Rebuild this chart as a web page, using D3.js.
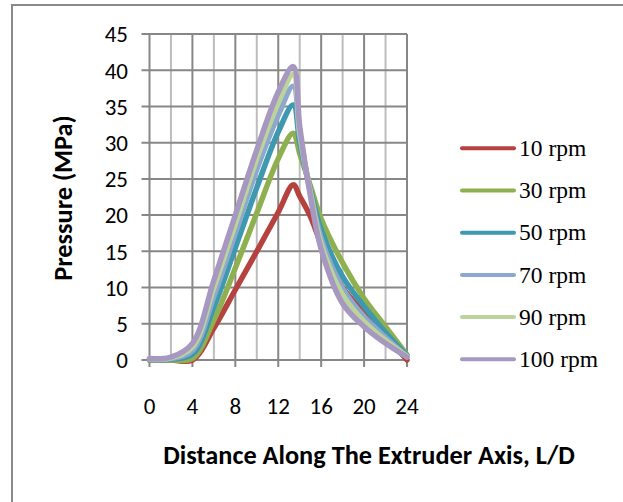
<!DOCTYPE html>
<html>
<head>
<meta charset="utf-8">
<script src="https://cdn.jsdelivr.net/npm/d3@7"></script>
<style>
  html, body { margin: 0; padding: 0; background: #fff; }
  svg { display: block; }
</style>
</head>
<body>
<svg id="chart" width="623" height="502"></svg>
<script>
// Axial position along the screw (L/D) and pressure at each screw speed (MPa)
const ld      = [0, 2, 4, 6, 8, 10, 12, 13.4, 14, 15, 16, 18, 20, 22, 24];
const rpm10   = [0, 0, 0, 4.4, 9.7, 15.0, 20.4, 24.2, 22.6, 19.8, 16.0, 10.0, 6.5, 3.3, 0];
const rpm30   = [0, 0, 0.2, 5.5, 12.7, 20.3, 27.8, 31.3, 28.5, 24.0, 19.5, 13.4, 8.5, 4.6, 0.7];
const rpm50   = [0.1, 0.1, 0.8, 7.3, 15.5, 23.8, 31.5, 35.2, 30.0, 23.5, 18.0, 11.5, 7.4, 3.8, 0.6];
const rpm70   = [0.1, 0.2, 1.3, 8.8, 17.5, 26.3, 33.8, 37.8, 31.0, 23.2, 16.8, 9.9, 6.0, 3.1, 0.5];
const rpm90   = [0.2, 0.3, 1.8, 10.0, 18.8, 27.8, 35.5, 39.4, 31.5, 23.0, 16.0, 9.0, 5.3, 2.7, 0.5];
const rpm100  = [0.2, 0.4, 2.3, 11.0, 20.0, 29.0, 37.0, 40.5, 32.2, 22.6, 15.3, 7.8, 4.6, 2.3, 0.4];

const seriesNames = ["10 rpm", "30 rpm", "50 rpm", "70 rpm", "90 rpm", "100 rpm"];
const seriesColors = ["#B5423F", "#8FB04F", "#3D98B0", "#8DA8CF", "#BCD49A", "#A698C0"];
const seriesValues = [rpm10, rpm30, rpm50, rpm70, rpm90, rpm100];

const xTicks = [0, 4, 8, 12, 16, 20, 24];
const xMinorGrid = [2, 6, 10, 14, 18, 22];
const yTicks = [0, 5, 10, 15, 20, 25, 30, 35, 40, 45];

const svg = d3.select("#chart");
const sansFont = "Carlito, Lato, 'Open Sans', sans-serif";

// outer chart frame
svg.append("rect")
  .attr("x", 12).attr("y", 5)
  .attr("width", 640).attr("height", 520)
  .attr("fill", "#fff")
  .attr("stroke", "#8a8a8a")
  .attr("stroke-width", 2);

const plot = { left: 149.5, right: 407, top: 34, bottom: 360 };

const x = d3.scaleLinear().domain([0, 24]).range([plot.left, plot.right]);
const y = d3.scaleLinear().domain([0, 45]).range([plot.bottom, plot.top]);

// grid: light vertical lines between labelled ticks
svg.append("g").selectAll("line")
  .data(xMinorGrid).join("line")
  .attr("x1", d => x(d)).attr("x2", d => x(d))
  .attr("y1", y(45)).attr("y2", y(0))
  .attr("stroke", "#bdbdbd").attr("stroke-width", 2);

// grid: main vertical lines
svg.append("g").selectAll("line")
  .data(xTicks).join("line")
  .attr("x1", d => x(d)).attr("x2", d => x(d))
  .attr("y1", y(45)).attr("y2", y(0) + 7)
  .attr("stroke", "#878787").attr("stroke-width", 2);

// grid: horizontal lines with outer tick marks
svg.append("g").selectAll("line")
  .data(yTicks).join("line")
  .attr("x1", plot.left - 8).attr("x2", plot.right)
  .attr("y1", d => y(d)).attr("y2", d => y(d))
  .attr("stroke", "#878787").attr("stroke-width", 2);

// y tick labels
svg.append("g").selectAll("text")
  .data(yTicks).join("text")
  .attr("x", 128).attr("y", d => y(d))
  .attr("dy", "0.36em")
  .attr("text-anchor", "end")
  .attr("font-family", sansFont)
  .attr("font-size", 23)
  .attr("fill", "#000")
  .text(d => d);

// x tick labels
svg.append("g").selectAll("text")
  .data(xTicks).join("text")
  .attr("x", d => x(d)).attr("y", 414)
  .attr("text-anchor", "middle")
  .attr("font-family", sansFont)
  .attr("font-size", 23)
  .attr("fill", "#000")
  .text(d => d);

// axis titles
svg.append("text")
  .attr("x", 369).attr("y", 464)
  .attr("text-anchor", "middle")
  .attr("font-family", sansFont)
  .attr("font-weight", "bold")
  .attr("font-size", 26.3)
  .text("Distance Along The Extruder Axis, L/D");

svg.append("text")
  .attr("transform", "translate(72,198) rotate(-90)")
  .attr("text-anchor", "middle")
  .attr("font-family", sansFont)
  .attr("font-weight", "bold")
  .attr("font-size", 26.3)
  .text("Pressure (MPa)");

// pressure profiles, smoothed through the measured points
const line = d3.line()
  .x((d, i) => x(ld[i]))
  .y(d => y(d))
  .curve(d3.curveCatmullRom.alpha(0.5));

svg.append("g").selectAll("path")
  .data(seriesValues).join("path")
  .attr("d", d => line(d))
  .attr("fill", "none")
  .attr("stroke", (d, i) => seriesColors[i])
  .attr("stroke-width", 5.5)
  .attr("stroke-linejoin", "round")
  .attr("stroke-linecap", "round");

// legend
const legend = svg.append("g").selectAll("g")
  .data(seriesNames).join("g")
  .attr("transform", (d, i) => `translate(0,${148.3 + i * 42.2})`);

legend.append("line")
  .attr("x1", 462).attr("x2", 514)
  .attr("y1", 0).attr("y2", 0)
  .attr("stroke", (d, i) => seriesColors[i])
  .attr("stroke-width", 4)
  .attr("stroke-linecap", "round");

legend.append("text")
  .attr("x", 519).attr("y", 0)
  .attr("dy", "0.33em")
  .attr("font-family", "'Liberation Serif', 'Times New Roman', serif")
  .attr("font-size", 23.5)
  .attr("fill", "#000")
  .text(d => d);
</script>
</body>
</html>
